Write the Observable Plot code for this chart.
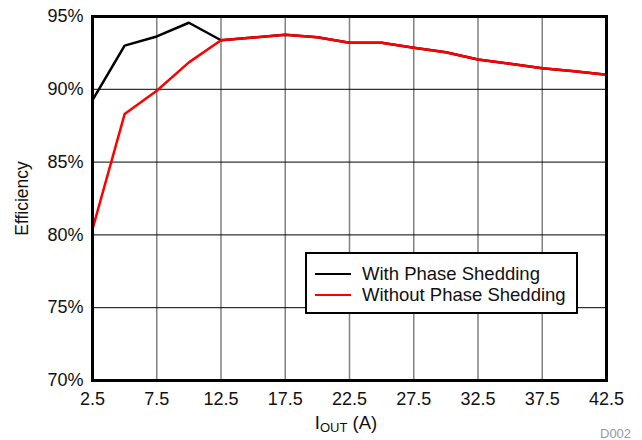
<!DOCTYPE html>
<html><head><meta charset="utf-8">
<script src="https://cdn.jsdelivr.net/npm/d3@7"></script>
<script src="https://cdn.jsdelivr.net/npm/@observablehq/plot@0.6"></script>
<style>
body{margin:0;background:#fff;font-family:"Liberation Sans",Arial,sans-serif}
#wrap{position:relative;width:642px;height:440px}
#legend{position:absolute;left:305px;top:252px;width:269px;height:58px;border:2px solid #000;background:#fff}
.lrow{position:absolute;left:8px;height:20px;display:flex;align-items:center;font-size:18.5px;color:#111;white-space:nowrap}
.lrow span.sw{display:inline-block;width:36px;height:2.5px;margin-right:11px}
#xlabel{position:absolute;left:0;width:692px;top:412px;text-align:center;font-size:18.5px;color:#111}
#xlabel sub{font-size:13px;vertical-align:-3px}
#code{position:absolute;left:600px;top:426px;font-size:13px;color:#999}
</style></head><body><div id="wrap"></div>
<script>
const current = [2.5,5,7.5,10,12.5,15,17.5,20,22.5,25,27.5,30,32.5,35,37.5,40,42.5];
const withShedding = [89.25,93.0,93.63,94.57,93.37,93.55,93.74,93.58,93.19,93.19,92.85,92.55,92.05,91.75,91.45,91.24,91.0];
const withoutShedding = [80.4,88.3,89.9,91.85,93.37,93.55,93.74,93.58,93.19,93.19,92.85,92.55,92.05,91.75,91.45,91.24,91.0];
const xTicks = [2.5,7.5,12.5,17.5,22.5,27.5,32.5,37.5,42.5];
const yTicks = [70,75,80,85,90,95];
const seriesNames = ["With Phase Shedding","Without Phase Shedding"];
const seriesColors = ["#000000","#ff0000"];

const dataWith = current.map((x,i)=>({x, y: withShedding[i]}));
const dataWithout = current.map((x,i)=>({x, y: withoutShedding[i]}));

const chart = Plot.plot({
  width: 642, height: 440,
  marginLeft: 92, marginRight: 36, marginTop: 16, marginBottom: 60,
  style: {fontFamily: '"Liberation Sans", Arial, sans-serif', fontSize: "18px", color: "#111", background: "#fff"},
  x: {domain: [2.5, 42.5], label: null},
  y: {domain: [70, 95], label: null},
  marks: [
    Plot.ruleX(xTicks.slice(1, -1), {stroke: "#808080", strokeWidth: 1.5}),
    Plot.ruleY(yTicks.slice(1, -1), {stroke: "#000", strokeWidth: 1}),
    Plot.line(dataWith, {x: "x", y: "y", stroke: seriesColors[0], strokeWidth: 2.5}),
    Plot.line(dataWithout, {x: "x", y: "y", stroke: seriesColors[1], strokeWidth: 2.5}),
    Plot.frame({stroke: "#000", strokeWidth: 3}),
    Plot.axisX({ticks: xTicks, tickFormat: d => d.toFixed(1), tickSize: 0, tickPadding: 12, label: null, fontSize: 18}),
    Plot.axisY({ticks: yTicks, tickFormat: d => d + "%", tickSize: 0, tickPadding: 9, label: null, fontSize: 18}),
    Plot.text(["Efficiency"], {frameAnchor: "left", dx: -70, rotate: -90, textAnchor: "middle", fontSize: 17.5, fill: "#111"})
  ]
});
const wrap = document.getElementById("wrap");
wrap.appendChild(chart);

const legend = document.createElement("div");
legend.id = "legend";
seriesNames.forEach((name, i) => {
  const row = document.createElement("div");
  row.className = "lrow";
  row.style.top = (10 + i * 21) + "px";
  row.innerHTML = `<span class="sw" style="background:${seriesColors[i]}"></span><span>${name}</span>`;
  legend.appendChild(row);
});
wrap.appendChild(legend);

const xl = document.createElement("div");
xl.id = "xlabel";
xl.innerHTML = "I<sub>OUT</sub> (A)";
wrap.appendChild(xl);

const code = document.createElement("div");
code.id = "code";
code.textContent = "D002";
wrap.appendChild(code);
</script>
</body></html>
